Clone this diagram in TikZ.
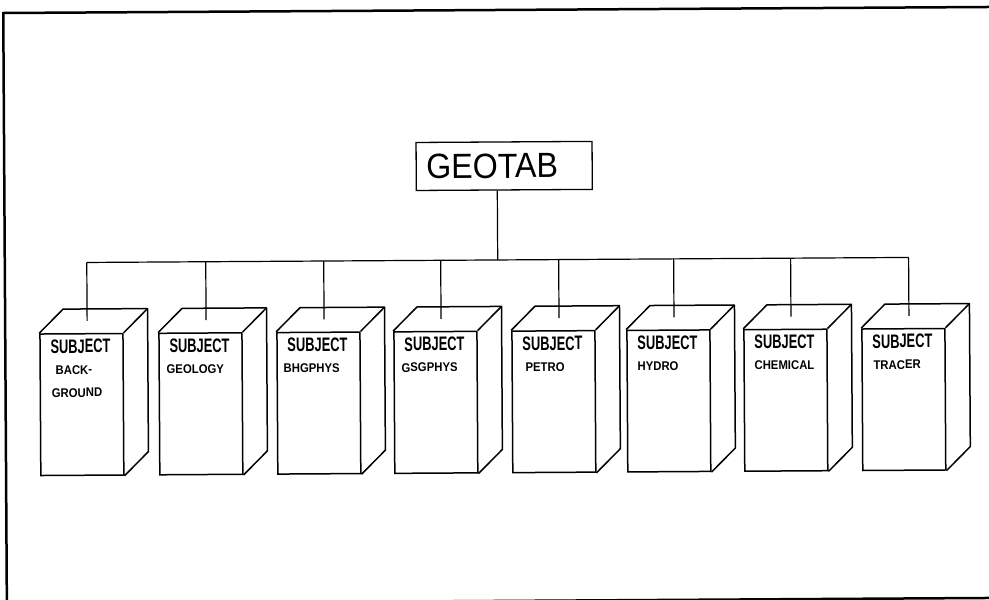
\documentclass[tikz,border=0pt]{standalone}
\usepackage{fontspec}
\setmainfont{Liberation Sans}
\newfontfamily\subjfont[FakeStretch=0.66]{Liberation Sans}
\newfontfamily\itemfont[FakeStretch=0.9]{Liberation Sans}
\newfontfamily\rootfont[FakeStretch=0.92]{Liberation Sans}
\usetikzlibrary{calc}
\begin{document}
\begin{tikzpicture}[x=1pt,y=-1pt,
  frontface/.style={draw, line width=1.5pt, minimum width=83pt, minimum height=141.5pt, inner sep=0pt, anchor=north west},
  face/.style={draw, line width=1.5pt, line join=round},
  conn/.style={line width=1.2pt},
  subjlabel/.style={anchor=base west, inner sep=0pt, font=\subjfont\bfseries\fontsize{19.5}{20}\selectfont},
  itemlabel/.style={anchor=base west, inner sep=0pt, font=\itemfont\bfseries\fontsize{12.6}{13}\selectfont},
  rootbox/.style={draw, line width=1.3pt, minimum width=176pt, minimum height=48pt, inner sep=0pt, font=\rootfont\fontsize{35}{36}\selectfont},
  frameline/.style={line width=2.5pt}]
\useasboundingbox (0,0) rectangle (989,600);
\begin{scope}[rotate around={0.35:(494,300)}, transform shape]
  \draw[frameline] (1000,10) -- (5,10) -- (5,601) -- (1000,601);
  \node[rootbox] (root) at (505,166) {\hspace*{-24pt}GEOTAB};
  \coordinate (bus) at (498,260);
  \draw[conn] (bus |- root.south) -- (bus);
  \foreach \i/\x/\sx/\word in {1/39/16/BACK-, 2/158/8/GEOLOGY, 3/276/7/BHGPHYS, 4/393/8/GSGPHYS, 5/511/14/PETRO, 6/626/11/HYDRO, 7/743/11/CHEMICAL, 8/861/12/TRACER}{
    \node[frontface] (b\i) at (\x,330.5) {};
    \draw[face] (b\i.north west) -- ++(24,-24) -- ($(b\i.north east)+(24,-24)$) -- ($(b\i.south east)+(24,-24)$) -- (b\i.south east);
    \draw[face] (b\i.north east) -- ++(24,-24);
    \coordinate (s\i) at ($(b\i.north west)+(48,-12)$);
    \draw[conn] (s\i |- bus) -- (s\i);
    \node[subjlabel] (l\i) at ($(b\i.north west)+(11,20)$) {SUBJECT};
    \node[itemlabel] (m\i) at ($(b\i.north west)+(\sx,41)$) {\word};
  }
  \node[itemlabel] (m1b) at ($(b1.north west)+(12,64)$) {GROUND};
  \draw[conn] (s1 |- bus) -- (s8 |- bus);
\end{scope}
\end{tikzpicture}
\end{document}
